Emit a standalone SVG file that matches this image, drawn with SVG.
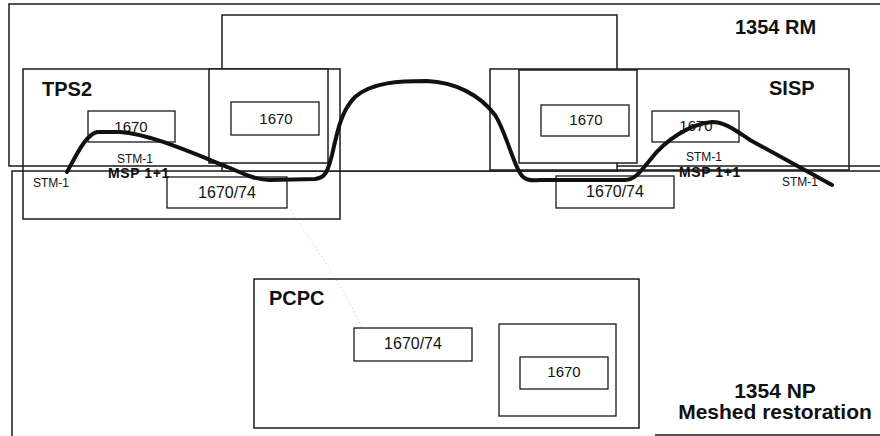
<svg xmlns="http://www.w3.org/2000/svg" width="880" height="436" viewBox="0 0 880 436">
<style>
.frame{fill:none;stroke:#1a1a1a;stroke-width:1.5}
.opaque{fill:#fff;stroke:#1a1a1a;stroke-width:1.5}
.box{fill:#fff;stroke:#1a1a1a;stroke-width:1.3}
.num{font-family:"Liberation Sans",Arial,sans-serif;font-size:15px;fill:#111;text-anchor:middle}
.num2{font-family:"Liberation Sans",Arial,sans-serif;font-size:16px;fill:#111;text-anchor:middle}
.title{font-family:"Liberation Sans",Arial,sans-serif;font-size:20px;font-weight:bold;fill:#111}
.stm{font-family:"Liberation Sans",Arial,sans-serif;font-size:12px;fill:#111}
.msp{font-family:"Liberation Sans",Arial,sans-serif;font-size:14px;font-weight:bold;fill:#111;letter-spacing:0.6px}
.link{fill:none;stroke:#111;stroke-width:4;stroke-linecap:round;stroke-linejoin:round}
.faint{fill:none;stroke:#bbb;stroke-width:0.8;stroke-dasharray:1 3}
</style>
<rect width="880" height="436" fill="#fff"/>
<g id="rm">
  <path class="frame" d="M880,4 H9 V166 H880"/>
  <text class="title" x="735" y="34">1354 RM</text>
</g>
<g id="np">
  <path class="frame" d="M880,171 H12 V436 M655,435 H880"/>
  <text class="title" x="775" y="398" text-anchor="middle" style="font-size:21px">1354 NP</text>
  <text class="title" x="775" y="419" text-anchor="middle" style="font-size:21px">Meshed restoration</text>
</g>
<g id="middle">
  <rect class="opaque" x="222" y="15" width="395" height="156"/>
</g>
<g id="tps2">
  <rect class="frame" x="23" y="69" width="317" height="150"/>
  <text class="title" x="42" y="96">TPS2</text>
  <g id="tps2-1670a">
    <rect class="box" x="88" y="111" width="87" height="31"/>
    <text class="num" x="131" y="132">1670</text>
  </g>
  <g id="tps2-inner">
    <rect class="opaque" x="209" y="69" width="119" height="94"/>
    <g id="tps2-1670b">
      <rect class="box" x="231" y="102" width="88" height="33"/>
      <text class="num" x="276" y="124">1670</text>
    </g>
  </g>
  <g id="tps2-167074">
    <rect class="box" x="167" y="177" width="120" height="31"/>
    <text class="num2" x="227" y="198">1670/74</text>
  </g>
</g>
<g id="sisp">
  <rect class="frame" x="490" y="69" width="359" height="101"/>
  <text class="title" x="769" y="95">SISP</text>
  <g id="sisp-inner">
    <rect class="opaque" x="519" y="70" width="118" height="93"/>
    <g id="sisp-1670b">
      <rect class="box" x="541" y="105" width="88" height="31"/>
      <text class="num" x="586" y="125">1670</text>
    </g>
  </g>
  <g id="sisp-1670a">
    <rect class="box" x="652" y="111" width="87" height="31"/>
    <text class="num" x="696" y="131">1670</text>
  </g>
  <g id="sisp-167074">
    <rect class="box" x="556" y="176" width="118" height="32"/>
    <text class="num2" x="615" y="197">1670/74</text>
  </g>
</g>
<g id="pcpc">
  <rect class="frame" x="254" y="279" width="385" height="149"/>
  <text class="title" x="269" y="305">PCPC</text>
  <g id="pcpc-167074">
    <rect class="box" x="354" y="328" width="118" height="33"/>
    <text class="num2" x="413" y="349">1670/74</text>
  </g>
  <g id="pcpc-inner">
    <rect class="box" x="499" y="324" width="117" height="92"/>
    <g id="pcpc-1670">
      <rect class="box" x="520" y="357" width="88" height="32"/>
      <text class="num" x="564" y="377">1670</text>
    </g>
  </g>
</g>
<g id="labels">
  <text class="stm" x="33" y="187">STM-1</text>
  <text class="stm" x="117" y="163">STM-1</text>
  <text class="msp" x="108" y="178">MSP 1+1</text>
  <text class="stm" x="686" y="161">STM-1</text>
  <text class="msp" x="679" y="177">MSP 1+1</text>
  <text class="stm" x="782" y="186">STM-1</text>
</g>
<g id="connectors">
  <path class="faint" d="M290,210 C310,240 340,280 362,328"/>
  <path class="link" d="M67,172 C75,158 85,135 97,132 L120,132 C150,134 190,152 230,168 C248,176 258,180 270,180 L315,179 C326,178 328,170 332,155 C338,128 342,110 355,97 C372,82 400,81 427,81 C455,82 480,95 495,115 C505,130 512,160 520,173 C524,180 530,181 540,180 L625,180 C635,180 640,172 650,160 C665,140 690,124 712,122 C725,122 735,130 750,140 L832,185"/>
</g>
</svg>
